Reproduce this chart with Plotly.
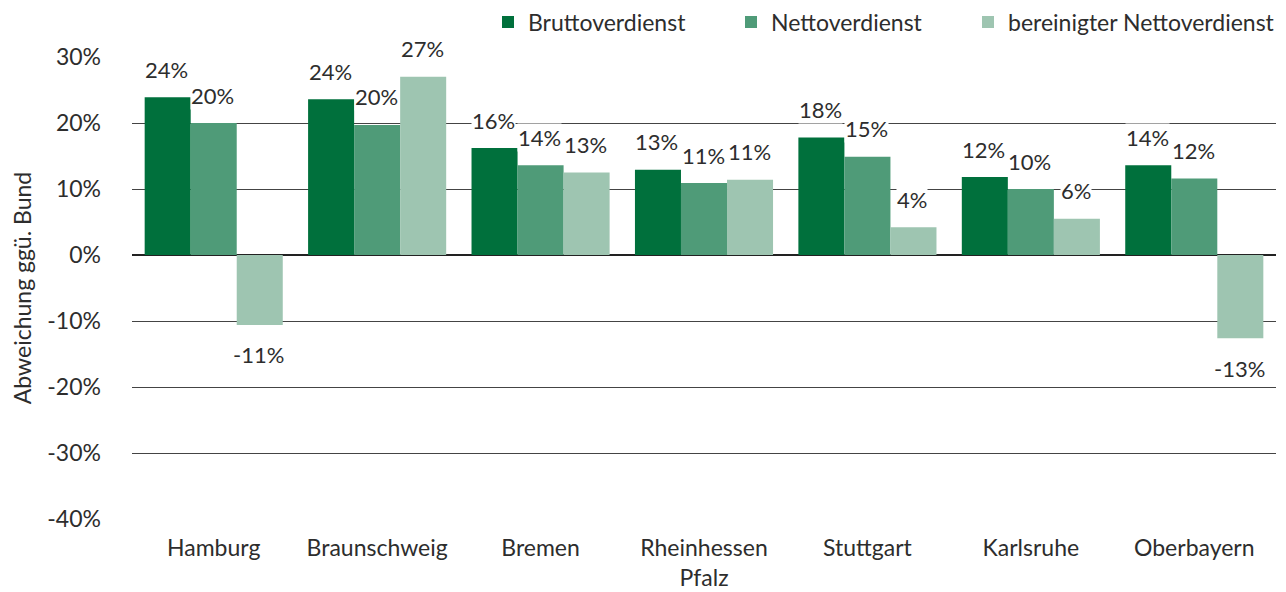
import math
import plotly.graph_objects as go

regions = ["Hamburg", "Braunschweig", "Bremen", "Rheinhessen<br>Pfalz", "Stuttgart", "Karlsruhe", "Oberbayern"]
brutto = [23.9, 23.6, 16.2, 12.9, 17.8, 11.8, 13.6]
netto = [20.0, 19.7, 13.6, 10.9, 14.9, 10.0, 11.6]
bereinigt = [-10.6, 27.0, 12.5, 11.4, 4.2, 5.5, -12.6]

series_names = ["Bruttoverdienst", "Nettoverdienst", "bereinigter Nettoverdienst"]
series_values = [brutto, netto, bereinigt]
colors = ["#00703C", "#4F9B78", "#9EC5B1"]

y_ticks = [-40, -30, -20, -10, 0, 10, 20, 30]
y_ticklabels = [f"{t}%" for t in y_ticks]

FONT = "Lato"
FS = 23
TXT = "#2d2d2d"
BARGAP = 0.155

# page body has an 8px default margin -> figure is 8px smaller than the window
W, H = 1278, 584
ML, MR, MT, MB = 124, 10, 49, 73
plot_w = W - ML - MR

legend_ids = ["legend", "legend2", "legend3"]
legend_left_px = [480, 723, 960]  # figure-pixel left edge of each legend entry

fig = go.Figure()
for name, vals, col, lid in zip(series_names, series_values, colors, legend_ids):
    fig.add_trace(go.Bar(x=list(range(len(regions))), y=vals, name=name, legend=lid,
                         marker=dict(color=col, line=dict(width=0))))

# value labels with white boxes
bw = (1 - BARGAP) / 3
for k, vals in enumerate(series_values):
    off = (k - 1) * bw
    for i, v in enumerate(vals):
        lab = f"{int(math.floor(v + 0.5))}%"
        fig.add_annotation(x=i + off, y=v, xref="x", yref="y", text=lab, showarrow=False,
                           font=dict(family=FONT, size=FS - 1, color=TXT),
                           bgcolor="white", borderpad=0, xshift=-1,
                           yanchor="middle", yshift=(28 if v >= 0 else -30))

legend_common = dict(orientation="h", xanchor="left", xref="paper",
                     y=1 - 14 / H, yanchor="middle", yref="container",
                     font=dict(family=FONT, size=FS, color=TXT),
                     bgcolor="rgba(0,0,0,0)")
legends = {lid: dict(legend_common, x=(px - ML) / plot_w) for lid, px in zip(legend_ids, legend_left_px)}

fig.update_layout(
    width=W, height=H,
    margin=dict(l=ML, r=MR, t=MT, b=MB),
    plot_bgcolor="white", paper_bgcolor="white",
    barmode="group", bargap=BARGAP, bargroupgap=0,
    font=dict(family=FONT, size=FS, color=TXT),
    showlegend=True,
    **legends,
    xaxis=dict(tickmode="array", tickvals=list(range(len(regions))), ticktext=regions,
               range=[-0.5, len(regions) - 0.5], showgrid=False, zeroline=False,
               showline=False, ticks="", ticklabelstandoff=13, automargin=False,
               tickfont=dict(family=FONT, size=FS, color=TXT)),
    yaxis=dict(range=[-40, 30], tickmode="array", tickvals=y_ticks, ticktext=y_ticklabels,
               showgrid=True, gridcolor="#444444", gridwidth=1,
               zeroline=True, zerolinecolor="#222222", zerolinewidth=2,
               showline=False, ticks="", ticklabelstandoff=30, automargin=False,
               tickfont=dict(family=FONT, size=FS, color=TXT),
               title=dict(text="Abweichung ggü. Bund", standoff=11,
                          font=dict(family=FONT, size=23, color=TXT))),
)

fig.write_html("out.html")
